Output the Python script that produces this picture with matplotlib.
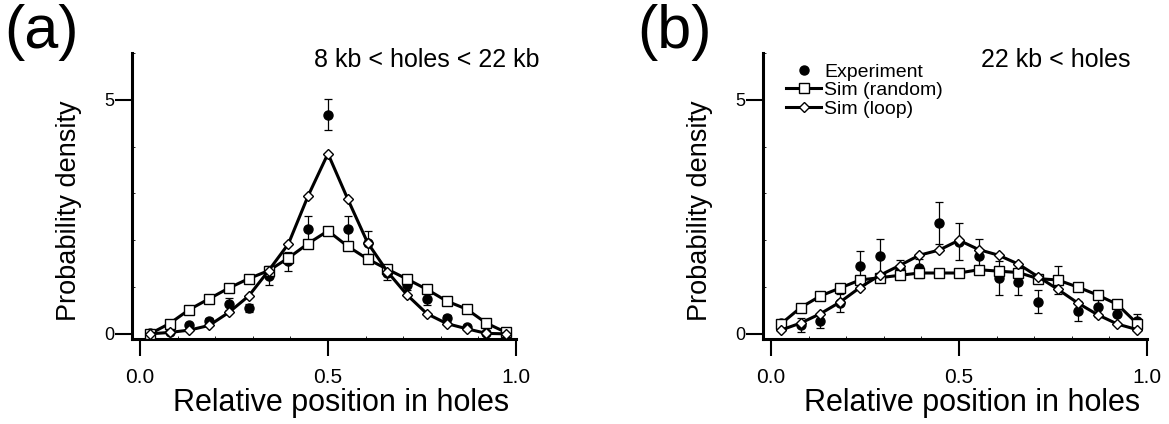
import numpy as np
import matplotlib
matplotlib.use('Agg')
import matplotlib.pyplot as plt
from matplotlib.ticker import MultipleLocator
from matplotlib.lines import Line2D

plt.rcParams['font.family'] = ['Liberation Sans', 'DejaVu Sans']

# 19 bins across the hole, centres at (i+0.5)/19
nbin = 19
pos = (np.arange(nbin) + 0.5) / nbin

# panel (a): 8 kb < holes < 22 kb
a_exp = [0.02, 0.04, 0.19, 0.28, 0.64, 0.55, 1.24, 1.55, 2.24, 4.68, 2.24, 1.95, 1.30, 1.05, 0.74, 0.33, 0.14, 0.02, 0.02]
a_err = [0.03, 0.03, 0.05, 0.06, 0.12, 0.08, 0.20, 0.20, 0.28, 0.33, 0.28, 0.24, 0.15, 0.12, 0.12, 0.08, 0.05, 0.04, 0.03]
a_rand = [0.00, 0.22, 0.52, 0.75, 0.98, 1.18, 1.35, 1.62, 1.93, 2.20, 1.87, 1.60, 1.38, 1.17, 0.95, 0.70, 0.53, 0.23, 0.03]
a_loop = [0.00, 0.03, 0.08, 0.18, 0.46, 0.81, 1.35, 1.92, 2.95, 3.85, 2.88, 1.95, 1.33, 0.83, 0.43, 0.22, 0.11, 0.01, 0.00]

# panel (b): 22 kb < holes
b_exp = [0.24, 0.18, 0.28, 0.66, 1.45, 1.67, 1.38, 1.40, 2.36, 1.97, 1.66, 1.19, 1.10, 0.69, 1.15, 0.49, 0.58, 0.43, 0.28]
b_err = [0.06, 0.15, 0.15, 0.20, 0.33, 0.36, 0.20, 0.20, 0.45, 0.40, 0.36, 0.36, 0.27, 0.24, 0.30, 0.22, 0.22, 0.20, 0.15]
b_rand = [0.21, 0.56, 0.81, 0.98, 1.15, 1.20, 1.25, 1.30, 1.30, 1.30, 1.37, 1.34, 1.31, 1.18, 1.15, 1.00, 0.83, 0.63, 0.22]
b_loop = [0.08, 0.23, 0.43, 0.68, 0.99, 1.25, 1.46, 1.68, 1.79, 2.00, 1.80, 1.68, 1.49, 1.22, 0.95, 0.66, 0.41, 0.21, 0.09]

panels = [
    ('(a)', '8 kb < holes < 22 kb', a_exp, a_err, a_rand, a_loop),
    ('(b)', '22 kb < holes', b_exp, b_err, b_rand, b_loop),
]

fig = plt.figure(figsize=(11.69, 4.24), dpi=100)
lefts = [132 / 1169, 763 / 1169]
W, H = 384 / 1169, 286 / 424
B = 85 / 424

for k, (tag, note, ex, er, rd, lp) in enumerate(panels):
    ax = fig.add_axes([lefts[k], B, W, H])
    ax.errorbar(pos, ex, yerr=er, fmt='o', color='k', ms=6.5, elinewidth=0.9,
                capsize=3, capthick=0.9, zorder=2)
    h_rd, = ax.plot(pos, rd, '-s', color='k', lw=2.2, ms=7, mfc='white', mec='k', mew=1.0,
                    zorder=3)
    h_lp, = ax.plot(pos, lp, '-D', color='k', lw=2.2, ms=5, mfc='white', mec='k', mew=1.0,
                    zorder=4)

    ax.set_xlim(-0.021, 1.0)
    ax.set_ylim(-0.11, 6.0)
    for s in ['top', 'right']:
        ax.spines[s].set_visible(False)
    for s in ['left', 'bottom']:
        ax.spines[s].set_linewidth(2.2)
    ax.set_xticks([0, 0.5, 1.0])
    ax.set_xticklabels(['0.0', '0.5', '1.0'])
    ax.set_yticks([0, 5])
    ax.xaxis.set_minor_locator(MultipleLocator(0.1))
    ax.yaxis.set_minor_locator(MultipleLocator(1))
    ax.tick_params(axis='x', which='major', direction='out', length=12, width=1.5,
                   pad=9, labelsize=15)
    ax.tick_params(axis='y', which='major', direction='out', length=12, width=1.5,
                   pad=1, labelsize=13)
    ax.tick_params(which='minor', direction='in', length=2, width=0.6)

    ax.set_xlabel('Relative position in holes', fontsize=22)
    ax.xaxis.set_label_coords(0.544, -0.17)
    ax.set_ylabel('Probability density', fontsize=19.5)
    ax.yaxis.set_label_coords(-0.13, 0.45)

    if k == 0:
        ax.text(1.0625, 0.975, note, transform=ax.transAxes, ha='right', va='center', fontsize=18)
    else:
        ax.text(0.956, 0.975, note, transform=ax.transAxes, ha='right', va='center', fontsize=18)
        h_ex = Line2D([], [], ls='none', marker='o', color='k', ms=6.5)
        ax.legend([h_ex, h_rd, h_lp], ['Experiment', 'Sim (random)', 'Sim (loop)'],
                  loc='upper left', bbox_to_anchor=(0.06, 0.965), frameon=False, fontsize=14,
                  handlelength=1.8, handletextpad=0.15, labelspacing=0.05, borderpad=0,
                  borderaxespad=0)

fig.text(0.004, 0.99, '(a)', fontsize=44, va='top', ha='left')
fig.text(0.545, 0.99, '(b)', fontsize=44, va='top', ha='left')

fig.savefig('out.png', dpi=100)
